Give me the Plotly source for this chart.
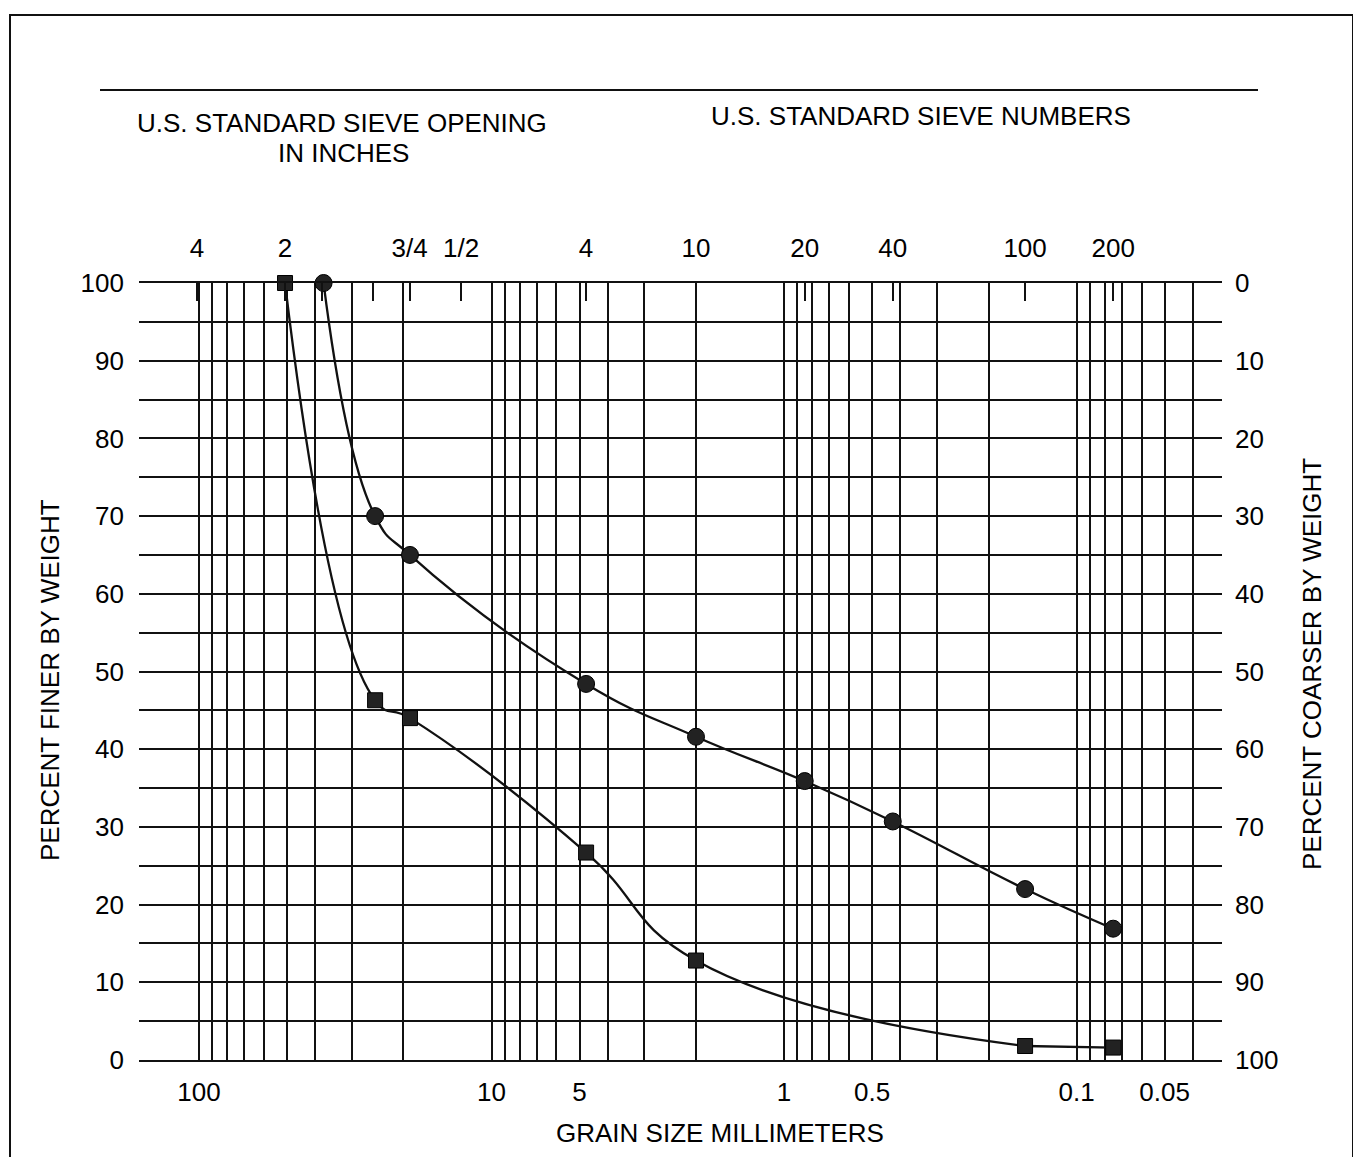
import plotly.graph_objects as go

# ---------------- data ----------------
# Sample 1 (circles)
sieve_mm_circle = [37.5, 25.0, 19.0, 4.75, 2.0, 0.85, 0.425, 0.15, 0.075]
finer_circle = [100, 70, 65, 48.4, 41.6, 35.9, 30.7, 22.0, 16.9]
# Sample 2 (squares)
sieve_mm_square = [50.8, 25.0, 19.0, 4.75, 2.0, 0.15, 0.075]
finer_square = [100, 46.3, 44.0, 26.7, 12.8, 1.8, 1.6]

# top axis: U.S. standard sieve openings / numbers (mm)
top_tick_mm = [101.6, 50.8, 38.1, 25.4, 19.05, 12.7, 4.75, 2.0, 0.85, 0.425, 0.15, 0.075]
top_tick_text = ["4", "2", "", "", "3/4", "1/2", "4", "10", "20", "40", "100", "200"]

# bottom axis labels (mm)
bottom_tick_mm = [100, 10, 5, 1, 0.5, 0.1, 0.05]
bottom_tick_text = ["100", "10", "5", "1", "0.5", "0.1", "0.05"]

# percent axes
finer_ticks = list(range(0, 101, 10))
coarser_ticks = list(range(0, 101, 10))

# ---------------- layout geometry ----------------
W, H = 1361, 1157
PAGE = 8                      # default body margin of the html page
X0, Y0 = 139, 283             # plot area top-left on screen
PW, PH = 1083, 777
L, T = X0 - PAGE, Y0 - PAGE
R = W - L - PW
B = H - T - PH


def px(xp):
    return (xp - X0) / PW


def py(yp):
    return (Y0 + PH - yp) / PH


FONT = "Liberation Sans, Arial, sans-serif"
INK = "#111111"

# log-paper grid lines (1..9 per decade, 100 mm down to 0.04 mm)
grid_mm = [100.0]
for e in (1, 0, -1, -2):
    for m in range(9, 0, -1):
        v = round(m * 10 ** e, 6)
        if v >= 0.04:
            grid_mm.append(v)
label_map = {round(v, 6): t for v, t in zip(bottom_tick_mm, bottom_tick_text)}
grid_text = [label_map.get(round(v, 6), "") for v in grid_mm]

fig = go.Figure()

line_style = dict(color=INK, width=2.3, shape="spline", smoothing=1.3)

# square sample: smooth curve up to #100, straight to #200
fig.add_trace(go.Scatter(
    x=sieve_mm_square[:-1], y=finer_square[:-1], mode="lines",
    line=line_style, cliponaxis=False, showlegend=False, hoverinfo="skip"))
fig.add_trace(go.Scatter(
    x=sieve_mm_square[-2:], y=finer_square[-2:], mode="lines",
    line=dict(color=INK, width=2.3), cliponaxis=False, showlegend=False,
    hoverinfo="skip"))
fig.add_trace(go.Scatter(
    x=sieve_mm_square, y=finer_square, mode="markers",
    marker=dict(symbol="square", size=15, color="#222222",
                line=dict(color="#000000", width=1)),
    cliponaxis=False, showlegend=False, name="Sample 2"))

fig.add_trace(go.Scatter(
    x=sieve_mm_circle, y=finer_circle, mode="lines+markers",
    line=line_style,
    marker=dict(symbol="circle", size=17, color="#222222",
                line=dict(color="#000000", width=1)),
    cliponaxis=False, showlegend=False, name="Sample 1"))

# helper trace so the top / right axes get drawn
fig.add_trace(go.Scatter(
    x=[sieve_mm_circle[0]], y=[100 - finer_circle[0]], xaxis="x2", yaxis="y2",
    mode="markers", marker=dict(opacity=0), hoverinfo="skip", showlegend=False))

xrange = [2.205, -1.497]

fig.update_layout(
    width=W, height=H,
    margin=dict(l=L, r=R, t=T, b=B),
    paper_bgcolor="white", plot_bgcolor="white",
    font=dict(family=FONT, size=26, color="#000000"),
    xaxis=dict(
        type="log", range=xrange,
        tickmode="array", tickvals=grid_mm, ticktext=grid_text,
        showgrid=True, gridcolor=INK, gridwidth=1.6,
        ticks="", showline=True, mirror=True, linecolor=INK, linewidth=1.8,
        zeroline=False, tickfont=dict(size=26), ticklabelstandoff=8,
    ),
    xaxis2=dict(
        type="log", range=xrange, overlaying="x", side="top", anchor="y",
        tickmode="array", tickvals=top_tick_mm, ticktext=top_tick_text,
        showgrid=False, ticks="inside", ticklen=18, tickwidth=1.6, tickcolor=INK,
        showline=False, zeroline=False, tickfont=dict(size=26),
        ticklabelstandoff=20,
    ),
    yaxis=dict(
        range=[0, 100], tickmode="array",
        tickvals=list(range(0, 101, 5)),
        ticktext=[str(v) if v % 10 == 0 else "" for v in range(0, 101, 5)],
        showgrid=True, gridcolor=INK, gridwidth=1.6,
        ticks="", showline=False, zeroline=False,
        tickfont=dict(size=26), ticklabelstandoff=14,
    ),
    yaxis2=dict(
        range=[100, 0], overlaying="y", side="right", anchor="x",
        tickmode="array", tickvals=coarser_ticks,
        ticktext=[str(v) for v in coarser_ticks],
        showgrid=False, ticks="", showline=False, zeroline=False,
        tickfont=dict(size=26), ticklabelstandoff=12,
    ),
)

ann = [
    dict(text="U.S. STANDARD SIEVE OPENING", x=px(342), y=py(123)),
    dict(text="IN INCHES", x=px(343), y=py(153)),
    dict(text="U.S. STANDARD SIEVE NUMBERS", x=px(921), y=py(116)),
    dict(text="GRAIN SIZE MILLIMETERS", x=px(720), y=py(1133)),
    dict(text="PERCENT FINER BY WEIGHT", x=px(50), y=py(680), textangle=-90),
    dict(text="PERCENT COARSER BY WEIGHT", x=px(1312), y=py(664), textangle=-90),
]
for a in ann:
    fig.add_annotation(xref="paper", yref="paper", showarrow=False,
                       xanchor="center", yanchor="middle",
                       font=dict(family=FONT, size=26, color="#000000"), **a)

# horizontal rule under the header and the sheet border
fig.add_shape(type="line", xref="paper", yref="paper",
              x0=px(100), x1=px(1258), y0=py(90), y1=py(90),
              line=dict(color=INK, width=2))
fig.add_shape(type="rect", xref="paper", yref="paper",
              x0=px(10), x1=px(1353), y0=py(15), y1=py(1175),
              line=dict(color=INK, width=2))

fig.write_html("out.html")
